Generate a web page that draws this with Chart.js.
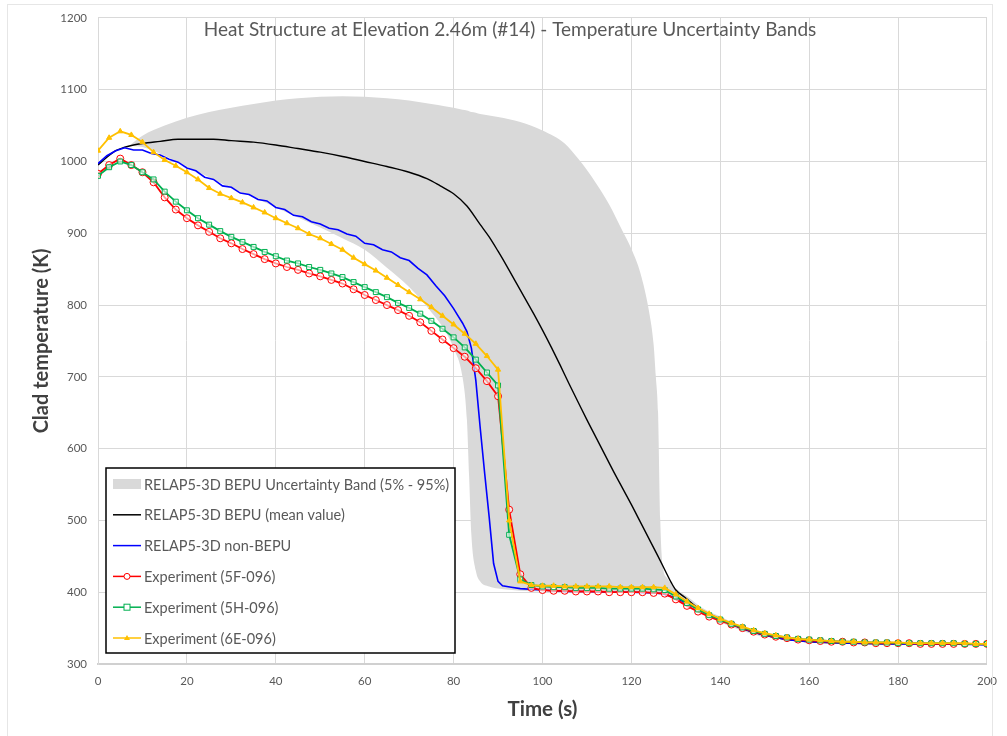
<!DOCTYPE html>
<html>
<head>
<meta charset="utf-8">
<script src="https://cdn.jsdelivr.net/npm/chart.js@4.4.1/dist/chart.umd.min.js"></script>
<style>
  html, body { margin: 0; padding: 0; background: #fff; }
  #wrap { position: relative; width: 1007px; height: 736px; }
</style>
</head>
<body>
<div id="wrap"><canvas id="chart" width="1007" height="736"></canvas></div>
<script>
// Experimental time grid (s), shared by the three thermocouples.
const EXP_TIME = [
  0, 2.5, 5, 7.5, 10, 12.5, 15, 17.5, 20, 22.5,
  25, 27.5, 30, 32.5, 35, 37.5, 40, 42.5, 45, 47.5,
  50, 52.5, 55, 57.5, 60, 62.5, 65, 67.5, 70, 72.5,
  75, 77.5, 80, 82.5, 85, 87.5, 90, 92.5, 95, 97.5,
  100, 102.5, 105, 107.5, 110, 112.5, 115, 117.5, 120, 122.5,
  125, 127.5, 130, 132.5, 135, 137.5, 140, 142.5, 145, 147.5,
  150, 152.5, 155, 157.5, 160, 162.5, 165, 167.5, 170, 172.5,
  175, 177.5, 180, 182.5, 185, 187.5, 190, 192.5, 195, 197.5,
  200,
];
const EXP_5F = [
  983, 995, 1004, 995, 985, 971, 950, 933, 921, 911,
  902, 893, 886, 878, 871, 864, 858, 853, 849, 844,
  840, 835, 830, 822, 814, 807, 800, 793, 785, 776,
  764, 752, 740, 728, 712, 694, 673, 515, 425, 406,
  403, 402, 402, 401, 401, 401, 400, 400, 400, 400,
  399, 398, 390, 381, 373, 366, 360, 355, 350, 345,
  341, 338, 336, 334, 333, 332, 331, 331, 330, 330,
  329, 329, 329, 329, 328, 328, 328, 328, 328, 328,
  328,
];
const EXP_5H = [
  980, 992, 1000, 995, 985, 975, 958, 944, 932, 921,
  912, 903, 895, 888, 881, 874, 868, 862, 858, 853,
  849, 844, 839, 832, 825, 818, 811, 803, 796, 788,
  778, 767, 755, 741, 724, 706, 688, 480, 418, 410,
  408, 407, 407, 406, 406, 406, 405, 405, 405, 405,
  404, 403, 394, 385, 376, 368, 362, 356, 351, 346,
  342, 339, 337, 335, 334, 333, 332, 331, 331, 330,
  330, 330, 329, 329, 329, 329, 329, 329, 328, 328,
  328,
];
const EXP_6E = [
  1015, 1033, 1042, 1037, 1027, 1013, 1002, 994, 985, 975,
  963, 955, 949, 943, 936, 929, 921, 914, 907, 899,
  893, 885, 877, 866, 857, 848, 838, 828, 818, 808,
  797, 785, 773, 760, 746, 729, 710, 500, 415, 410,
  409, 409, 408, 408, 408, 408, 408, 407, 407, 407,
  407, 406, 397, 387, 378, 370, 363, 357, 352, 347,
  343, 340, 337, 335, 334, 333, 332, 331, 331, 330,
  330, 330, 330, 329, 329, 329, 329, 329, 329, 328,
  328,
];

// RELAP5-3D non-BEPU run
const NB_TIME = [
  0, 2, 4, 6, 8, 10, 12, 14, 16, 18,
  20, 22, 24, 26, 28, 30, 32, 34, 36, 38,
  40, 42, 44, 46, 48, 50, 52, 54, 56, 58,
  60, 62, 64, 66, 68, 70, 72, 74, 76, 78,
  80, 81, 82, 83, 84, 85, 86, 87, 88, 89,
  90, 91, 93, 95, 100, 105, 110, 115, 120, 125,
  127, 130, 135, 140, 145, 150, 155, 160, 170, 180,
  190, 200,
];
const NB_TEMP = [
  997, 1008, 1015, 1019, 1016, 1016, 1011, 1009, 1003, 999,
  991, 987, 978, 975, 966, 964, 956, 954, 947, 945,
  936, 933, 925, 923, 916, 913, 907, 905, 899, 896,
  886, 884, 877, 874, 866, 862, 851, 842, 827, 813,
  795, 785, 775, 763, 740, 695, 628, 565, 505, 440,
  415, 409, 407, 405, 403, 401, 401, 400, 400, 399,
  398, 392, 377, 362, 349, 340, 334, 331, 329, 328,
  328, 327,
];

// RELAP5-3D BEPU mean value
const MEAN_TIME = [
  0, 2, 4, 6, 8, 10, 14, 18, 22, 26,
  30, 35, 40, 45, 50, 55, 60, 65, 70, 74,
  77, 80, 83, 86, 88, 90, 92, 94, 96, 98,
  100, 102, 104, 106, 108, 110, 112, 114, 116, 118,
  120, 122, 124, 126, 128, 129, 130, 132, 135, 140,
  145, 150, 155, 160, 170, 180, 190, 200,
];
const MEAN_TEMP = [
  995, 1006, 1015, 1020, 1023, 1025, 1028, 1031, 1031, 1031,
  1029, 1027, 1023, 1018, 1013, 1007, 1000, 993, 985, 976,
  966, 955, 938, 912, 895, 875, 854, 832, 810, 788,
  765, 741, 716, 690, 665, 640, 616, 592, 568, 545,
  522, 498, 474, 450, 425, 413, 403, 393, 378, 362,
  349, 340, 334, 331, 329, 328, 328, 327,
];

// BEPU uncertainty band, 5% and 95% limits
const BAND_TIME = [
  7, 10, 15, 20, 25, 30, 35, 40, 45, 50,
  55, 60, 65, 70, 75, 78, 80, 82, 83, 83.5,
  84, 85, 86, 88, 90, 95, 100, 105, 108, 110,
  112, 115, 118, 120, 122, 124, 125, 125.5, 126, 126.5,
  127, 128, 130, 133, 136, 140, 145, 150,
];
const BAND_LOW = [
  1022, 1020, 1008, 993, 978, 963, 950, 936, 922, 908,
  893, 877, 852, 825, 790, 765, 740, 700, 640, 560,
  480, 430, 415, 408, 405, 402, 401, 400, 400, 400,
  400, 400, 400, 400, 400, 400, 400, 400, 400, 400,
  399, 398, 390, 380, 370, 358, 346, 337,
];
const BAND_HIGH = [
  1022, 1036, 1050, 1061, 1069, 1075, 1080, 1085, 1088, 1090,
  1091, 1090, 1088, 1085, 1080, 1077, 1075, 1072, 1071, 1070,
  1069, 1068, 1066, 1064, 1062, 1055, 1043, 1025, 1004, 988,
  970, 940, 903, 878, 845, 790, 745, 700, 650, 500,
  440, 420, 405, 392, 378, 366, 352, 342,
];

const TITLE = "Heat Structure at Elevation 2.46m (#14) - Temperature Uncertainty Bands";
const LEGEND = [
  { label: "RELAP5-3D BEPU Uncertainty Band (5% - 95%)", kind: "band", color: "#d9d9d9" },
  { label: "RELAP5-3D BEPU (mean value)", kind: "line", color: "#000000" },
  { label: "RELAP5-3D non-BEPU", kind: "line", color: "#0000ff" },
  { label: "Experiment (5F-096)", kind: "circle", color: "#ff0000" },
  { label: "Experiment (5H-096)", kind: "rect", color: "#00b050" },
  { label: "Experiment (6E-096)", kind: "triangle", color: "#ffc000" },
];

const FONT = "Lato, 'Open Sans', sans-serif";
const TEXT_GREY = "#595959";

const xy = (xs, ys) => xs.map((x, i) => ({ x, y: ys[i] }));

// Titre et légende dessinés à l'intérieur de la zone du graphique.
const overlayPlugin = {
  id: "overlay",
  afterDraw(chart) {
    const ctx = chart.ctx;
    const ca = chart.chartArea;
    ctx.save();

    // faint outer frame
    ctx.strokeStyle = "#e6e6e6";
    ctx.lineWidth = 1;
    ctx.strokeRect(7.5, 4.5, 985, 740);

    ctx.fillStyle = TEXT_GREY;
    ctx.font = "19px " + FONT;
    ctx.textAlign = "center";
    ctx.textBaseline = "middle";
    ctx.fillText(TITLE, 510, 30);

    // legend box
    const bx = ca.left + 8, by = 468, bw = 349, bh = 185;
    ctx.fillStyle = "#ffffff";
    ctx.fillRect(bx, by, bw, bh);
    ctx.strokeStyle = "#000000";
    ctx.lineWidth = 1.5;
    ctx.strokeRect(bx, by, bw, bh);

    ctx.font = "14.5px " + FONT;
    ctx.textAlign = "left";
    LEGEND.forEach((item, i) => {
      const y = by + 16 + i * 30.8;
      const x0 = bx + 7, x1 = bx + 35, xm = (x0 + x1) / 2;
      if (item.kind === "band") {
        ctx.fillStyle = item.color;
        ctx.fillRect(x0, y - 5, x1 - x0, 10);
      } else {
        ctx.strokeStyle = item.color;
        ctx.lineWidth = 1.5;
        ctx.beginPath();
        ctx.moveTo(x0, y);
        ctx.lineTo(x1, y);
        ctx.stroke();
        ctx.lineWidth = 1;
        if (item.kind === "circle") {
          ctx.beginPath();
          ctx.arc(xm, y, 3, 0, Math.PI * 2);
          ctx.fillStyle = "#fff";
          ctx.fill();
          ctx.stroke();
        } else if (item.kind === "rect") {
          ctx.fillStyle = "#fff";
          ctx.fillRect(xm - 3, y - 3, 6, 6);
          ctx.strokeRect(xm - 3, y - 3, 6, 6);
        } else if (item.kind === "triangle") {
          ctx.fillStyle = item.color;
          ctx.beginPath();
          ctx.moveTo(xm, y - 3);
          ctx.lineTo(xm + 3, y + 2);
          ctx.lineTo(xm - 3, y + 2);
          ctx.closePath();
          ctx.fill();
        }
      }
      ctx.fillStyle = TEXT_GREY;
      ctx.fillText(item.label, bx + 38, y + 1);
    });
    ctx.restore();
  },
};

const expStyle = (color, shape, hollow) => ({
  borderColor: color,
  backgroundColor: color,
  borderWidth: 1.8,
  pointStyle: shape,
  pointRadius: shape === "triangle" ? 3 : 3.5,
  pointBorderWidth: 1,
  pointBorderColor: color,
  pointBackgroundColor: hollow ? "rgba(255,255,255,0.6)" : color,
  tension: 0,
  fill: false,
});

const datasets = [
  { label: "Experiment (6E-096)", data: xy(EXP_TIME, EXP_6E), ...expStyle("#ffc000", "triangle", false) },
  { label: "Experiment (5H-096)", data: xy(EXP_TIME, EXP_5H), ...expStyle("#00b050", "rect", true) },
  { label: "Experiment (5F-096)", data: xy(EXP_TIME, EXP_5F), ...expStyle("#ff0000", "circle", true) },
  {
    label: "RELAP5-3D non-BEPU", data: xy(NB_TIME, NB_TEMP),
    borderColor: "#0000ff", borderWidth: 1.6, pointRadius: 0, tension: 0, fill: false,
  },
  {
    label: "RELAP5-3D BEPU (mean value)", data: xy(MEAN_TIME, MEAN_TEMP),
    borderColor: "#000000", borderWidth: 1.4, pointRadius: 0, tension: 0.3,
    cubicInterpolationMode: "monotone", fill: false,
  },
  {
    label: "band low", data: xy(BAND_TIME, BAND_LOW),
    borderWidth: 0, borderColor: "rgba(0,0,0,0)", pointRadius: 0,
    cubicInterpolationMode: "monotone", fill: false,
  },
  {
    label: "RELAP5-3D BEPU Uncertainty Band (5% - 95%)", data: xy(BAND_TIME, BAND_HIGH),
    borderWidth: 0, borderColor: "rgba(0,0,0,0)", pointRadius: 0,
    cubicInterpolationMode: "monotone",
    fill: "-1", backgroundColor: "#d9d9d9",
  },
];

new Chart(document.getElementById("chart"), {
  type: "line",
  data: { datasets },
  options: {
    responsive: false,
    animation: false,
    devicePixelRatio: 1,
    layout: { padding: { top: 16, right: 18, left: 0, bottom: 0 } },
    plugins: {
      legend: { display: false },
      tooltip: { enabled: false },
      title: { display: false },
    },
    scales: {
      x: {
        type: "linear",
        min: 0, max: 200,
        ticks: {
          stepSize: 20, padding: 10, color: TEXT_GREY,
          font: { family: FONT, size: 11.5 },
          callback: (v) => String(v),
        },
        grid: { color: "#d9d9d9", drawTicks: false },
        border: { color: "#d0d0d0", width: 2 },
        title: {
          display: true, text: "Time (s)", color: "#404040",
          font: { family: FONT, size: 20.5, weight: "bold" },
          padding: { top: 0, bottom: 14 },
        },
        afterFit: (s) => { s.height = 72; },
      },
      y: {
        type: "linear",
        min: 300, max: 1200,
        ticks: {
          stepSize: 100, padding: 11, color: TEXT_GREY,
          font: { family: FONT, size: 11.5 },
          callback: (v) => String(v),
        },
        grid: { color: "#d9d9d9", drawTicks: false },
        border: { color: "#d9d9d9", width: 1 },
        title: {
          display: true, text: "Clad temperature (K)", color: "#404040",
          font: { family: FONT, size: 20, weight: "bold" },
          padding: { top: 30, bottom: 0 },
        },
        afterFit: (s) => { s.width = 98; },
      },
    },
  },
  plugins: [overlayPlugin],
});
</script>
</body>
</html>
